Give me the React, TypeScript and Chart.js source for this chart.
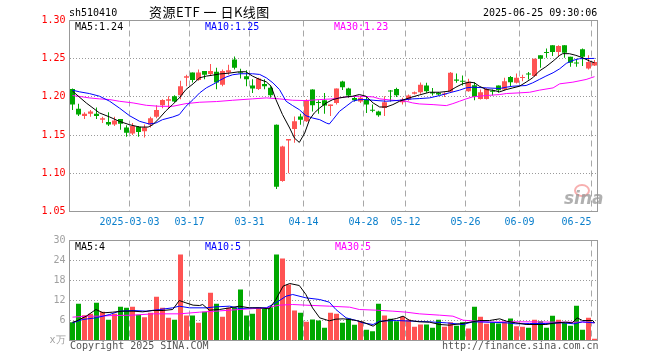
import React, { useEffect, useRef } from 'react';
import { Chart, registerables } from 'chart.js';

Chart.register(...registerables);

// ---------- data ----------
const xTickIdx = [10, 20, 30, 39, 49, 56, 66, 75, 87];
const xTickLabels = ['2025-03-03', '03-17', '03-31', '04-14', '04-28', '05-12', '05-26', '06-09', '06-25'];

const openP = [1.2105,1.1846,1.175,1.178,1.178,1.170,1.167,1.164,1.171,1.160,
1.152,1.161,1.155,1.164,1.174,1.189,1.195,1.201,1.202,1.225,
1.232,1.222,1.234,1.230,1.233,1.216,1.232,1.249,1.232,1.227,
1.215,1.2105,1.217,1.212,1.1636,1.090,1.143,1.158,1.1745,1.168,
1.2096,1.193,1.1956,1.188,1.192,1.220,1.211,1.1987,1.194,1.1965,
1.183,1.181,1.1855,1.208,1.2105,1.193,1.1965,1.204,1.206,1.2149,
1.2061,1.2053,1.2031,1.2066,1.2228,1.2206,1.2075,1.2153,1.1974,1.1974,
1.2075,1.2149,1.2096,1.2259,1.2184,1.2246,1.2296,1.2272,1.2544,1.2582,
1.2675,1.2588,1.2675,1.2526,1.2441,1.2623,1.2373,1.2412];

const highP = [1.2110,1.191,1.180,1.183,1.186,1.174,1.180,1.174,1.171,1.163,
1.166,1.162,1.164,1.174,1.189,1.197,1.201,1.202,1.221,1.229,
1.232,1.236,1.234,1.243,1.238,1.236,1.242,1.253,1.237,1.235,
1.223,1.225,1.223,1.214,1.164,1.136,1.145,1.1745,1.178,1.197,
1.210,1.1956,1.205,1.190,1.211,1.221,1.212,1.201,1.201,1.200,
1.190,1.182,1.201,1.209,1.212,1.199,1.203,1.207,1.219,1.2184,
1.2118,1.2061,1.2061,1.2325,1.2307,1.2281,1.2237,1.2193,1.2096,1.2118,
1.2096,1.2149,1.225,1.2272,1.2307,1.229,1.2325,1.25,1.2544,1.2632,
1.2675,1.2675,1.2675,1.2526,1.25,1.2632,1.2544,1.2482];

const lowP = [1.183,1.175,1.171,1.174,1.171,1.166,1.162,1.162,1.157,1.148,
1.150,1.148,1.147,1.160,1.172,1.185,1.184,1.193,1.197,1.214,
1.219,1.221,1.223,1.228,1.210,1.214,1.229,1.236,1.224,1.214,
1.205,1.209,1.210,1.199,1.0794,1.089,1.100,1.140,1.1636,1.167,
1.181,1.178,1.178,1.175,1.190,1.209,1.199,1.194,1.192,1.179,
1.180,1.174,1.175,1.194,1.200,1.190,1.195,1.203,1.204,1.2053,
1.2018,1.2018,1.200,1.2066,1.2184,1.2149,1.2066,1.1956,1.1965,1.1965,
1.2018,1.2053,1.2088,1.214,1.2175,1.2206,1.2228,1.2263,1.2382,1.2513,
1.2535,1.2535,1.2513,1.2395,1.2395,1.2404,1.236,1.2404];

const closeP = [1.190,1.177,1.178,1.181,1.175,1.172,1.164,1.169,1.165,1.153,
1.162,1.154,1.160,1.172,1.183,1.196,1.197,1.194,1.214,1.227,
1.222,1.232,1.229,1.234,1.219,1.234,1.235,1.238,1.231,1.223,
1.211,1.224,1.214,1.202,1.0825,1.135,1.145,1.168,1.170,1.1956,
1.189,1.192,1.1886,1.190,1.211,1.2127,1.2018,1.1956,1.199,1.190,
1.182,1.176,1.193,1.207,1.202,1.1965,1.2018,1.206,1.216,1.2075,
1.2044,1.2031,1.2044,1.2316,1.221,1.2197,1.2197,1.200,1.2061,1.2105,
1.2066,1.2088,1.2206,1.2193,1.225,1.225,1.2292,1.25,1.25,1.2575,
1.2588,1.2667,1.2579,1.2447,1.2437,1.2526,1.2456,1.2456];

const volume = [5.5,11.0,7.6,8.0,11.3,8.6,6.2,8.0,10.1,9.8,
10.1,7.7,7.0,8.3,13.1,9.8,6.8,6.2,25.8,7.5,
7.5,5.3,8.6,14.3,11.0,7.1,9.8,9.8,15.3,7.5,
8.0,9.8,9.5,10.0,25.8,24.6,16.8,9.0,8.3,5.6,
6.3,6.0,3.8,8.3,8.0,5.3,6.6,4.7,5.8,3.2,
2.8,11.0,7.5,6.5,5.8,7.1,6.3,4.1,4.8,4.8,
3.8,6.2,4.1,5.5,4.4,5.5,3.6,10.1,7.1,5.0,
5.4,5.1,5.6,6.6,4.3,4.1,3.8,6.2,5.8,3.8,
7.4,6.2,5.3,4.4,10.4,3.2,6.8,0.5];

// moving-average lines, read as [candle index, value] points
const ma5Price = [[0,1.2075],[2.3,1.192],[4.5,1.179],[6.2,1.1737],[7.8,1.168],[9.5,1.1636],[11.2,1.1605],[12.6,1.1605],[13.4,1.1636],[14.5,1.1724],[15.6,1.182],[16.7,1.190],[17.8,1.1987],[18.9,1.2096],[20.1,1.2171],[21.2,1.225],[22.3,1.2272],[23.4,1.2285],[24.5,1.230],[26,1.231],[27.8,1.2329],[28.9,1.2329],[30,1.2272],[31.2,1.2228],[32.3,1.2197],[33.1,1.214],[33.9,1.1965],[35,1.1768],[36.2,1.1592],[37,1.146],[37.8,1.1404],[38.7,1.1526],[39.5,1.1702],[40.3,1.179],[41.2,1.1855],[42.3,1.1921],[43.4,1.1965],[44.5,1.1987],[45.6,1.200],[46.7,1.2009],[47.8,1.2031],[48.9,1.2009],[50.1,1.1921],[51.2,1.1868],[52.3,1.1868],[53.4,1.1899],[54.5,1.1943],[55.6,1.1974],[56.7,1.200],[57.8,1.2025],[59.5,1.2061],[61.2,1.2061],[62.8,1.2075],[63.9,1.2127],[65,1.2171],[66.2,1.2193],[67,1.2184],[67.8,1.214],[69,1.2096],[70,1.2088],[71.2,1.2066],[72.3,1.2096],[73.4,1.2118],[74.5,1.214],[75.6,1.2193],[76.7,1.225],[77.8,1.2338],[78.9,1.2395],[80.1,1.2469],[81.2,1.2544],[81.7,1.2566],[82.8,1.2566],[83.9,1.2544],[85,1.2513],[86.2,1.2469],[87,1.2447]];
const ma10Price = [[0,1.2088],[1.2,1.2066],[2.8,1.2044],[4.5,1.2009],[6.2,1.1943],[7.8,1.1855],[9.5,1.1754],[11.2,1.168],[12.8,1.1645],[13.9,1.1658],[15,1.1702],[16.7,1.1737],[17.8,1.1768],[18.9,1.1877],[20.1,1.1965],[21.2,1.2053],[22.3,1.2118],[23.9,1.2184],[24.5,1.2215],[25.6,1.226],[26.7,1.229],[28,1.2303],[30,1.2303],[31.2,1.2294],[32.3,1.225],[33.4,1.2184],[34.5,1.2096],[35.6,1.1943],[36.7,1.1886],[37.8,1.1833],[38.9,1.1754],[40,1.1724],[41.2,1.1702],[42.3,1.1658],[42.8,1.1645],[43.4,1.1702],[44.5,1.1811],[45.6,1.1877],[46.7,1.1943],[47.8,1.1965],[48.9,1.1965],[50.1,1.1956],[52.3,1.1943],[54.5,1.1956],[56.7,1.1974],[57.8,1.1978],[59.5,1.1987],[61.2,1.2018],[62.8,1.2053],[64.5,1.2088],[65.6,1.2118],[66.7,1.2127],[69,1.2118],[71.2,1.211],[72.3,1.2127],[73.4,1.214],[75.6,1.2149],[76.7,1.2184],[77.8,1.2228],[78.9,1.2272],[80.1,1.2316],[81.2,1.2368],[82.3,1.2439],[83.4,1.2478],[84.5,1.250],[87,1.2504]];
const ma30Price = [[0,1.2018],[1.7,1.200],[2.8,1.1987],[4.5,1.1974],[6.2,1.1965],[7.8,1.1943],[10.1,1.1921],[12.3,1.189],[14.5,1.1877],[16.7,1.1877],[18.9,1.1912],[21.2,1.193],[24,1.1939],[26.7,1.1956],[30,1.1974],[32.3,1.1987],[34.5,1.1974],[36.7,1.1956],[38.9,1.1952],[41.2,1.1965],[43.4,1.1974],[45.6,1.200],[47.8,1.2009],[50.1,1.200],[51.2,1.1974],[53.4,1.1956],[55.6,1.1943],[56.7,1.1921],[57.8,1.1908],[60.1,1.1899],[62.3,1.1886],[63.4,1.1912],[64.5,1.1943],[65.6,1.1974],[66.7,1.200],[69,1.2018],[71.2,1.2031],[72.3,1.2044],[74.5,1.2053],[76.2,1.2061],[77.8,1.2088],[80.1,1.2118],[81.2,1.2171],[83.4,1.2193],[85.6,1.2228],[87,1.2265]];

const ma5Vol = [[0,5.5],[0.6,5.8],[2.3,7.3],[3.9,9.3],[5.1,8.3],[6.7,8.5],[8.4,8.8],[10.1,8.8],[11.7,8.6],[13.4,9.0],[15.1,9.0],[16.7,9.3],[17.8,12.0],[18.9,11.3],[20.1,10.6],[21.2,10.5],[21.7,10.8],[22.8,9.1],[24.5,9.3],[26.2,9.8],[27.8,10.3],[29.5,9.8],[31.2,9.8],[32.8,9.5],[33.9,12.3],[35.1,16.3],[36.2,17.1],[37.8,16.5],[38.9,13.8],[40,9.8],[41.2,6.8],[42.8,5.9],[43.9,6.4],[45.1,6.5],[46.2,6.3],[47.3,6.0],[48.4,5.5],[50.1,4.3],[51.2,5.6],[52.3,6.0],[54,6.6],[55.1,7.3],[56.2,6.0],[57.8,5.6],[59.5,5.5],[61.2,4.8],[62.8,4.6],[64.5,5.0],[66.7,5.6],[67.8,6.0],[69.5,6.0],[71.2,6.5],[72.3,5.8],[73.9,5.3],[75.6,4.8],[78.9,4.8],[80.6,5.3],[82.2,5.5],[83.3,5.3],[84.1,6.8],[85,6.0],[86.7,6.0],[87,5.3]];
const ma10Vol = [[0,5.3],[1.7,6.3],[3.9,6.8],[6.2,7.8],[7.8,8.8],[10.1,9.0],[12.3,8.8],[14.5,9.3],[16.7,9.8],[17.8,10.3],[19.5,9.8],[22.3,9.8],[23.9,10.1],[26.2,10.3],[27.8,9.6],[30,9.8],[32.3,9.8],[33.9,11.3],[35.6,13.3],[36.7,13.8],[38.9,12.8],[41.2,12.3],[42.8,11.5],[43.9,9.3],[45.6,6.8],[47.3,6.0],[48.4,5.3],[50.1,4.8],[51.2,5.8],[54,6.0],[56.7,5.8],[59.5,5.6],[62.3,5.3],[65.1,4.8],[66.7,5.6],[69.5,5.5],[72.3,5.3],[73.9,5.0],[76.2,5.1],[78.9,5.1],[81.7,5.3],[83.6,5.0],[85,5.6],[87,5.3]];
const ma30Vol = [[0,7.0],[2.3,7.3],[4.5,7.3],[6.7,7.5],[10.1,7.6],[13.4,8.0],[17.8,8.0],[21.2,8.5],[23.9,8.8],[27.8,9.3],[32.3,9.8],[34.5,10.6],[36.7,10.8],[38.9,10.6],[42.8,10.3],[46.2,10.0],[47.8,9.3],[50.6,9.1],[53.4,8.8],[55.6,8.5],[57.8,8.0],[61.2,7.6],[63.4,7.3],[65.1,6.1],[67.3,5.8],[69.5,5.5],[72.3,5.6],[76.2,5.6],[80.6,5.5],[85,5.5],[87,5.3]];

// ---------- styling ----------
const RED = '#ff5353';
const GREEN = '#00a800';
const MONO = '"DejaVu Sans Mono", monospace';
const HGRID = '#9a9a9a';
const VGRID = '#a8a8a8';
const FRAME = '#999999';

const candleColor = (i: number) => (closeP[i] >= openP[i] ? RED : GREEN);

const framePlugin = {
  id: 'frame',
  afterDraw(chart: any) {
    const { ctx, chartArea: a } = chart;
    ctx.save();
    ctx.strokeStyle = FRAME;
    ctx.lineWidth = 1;
    ctx.strokeRect(a.left, a.top, a.right - a.left, a.bottom - a.top);
    ctx.restore();
  },
};

const lineDs = (pts: number[][], color: string) => ({
  type: 'line' as const,
  data: pts.map(([x, y]) => ({ x: x + 0.5, y })),
  borderColor: color,
  borderWidth: 1,
  pointRadius: 0,
  tension: 0,
  order: 1,
});

function xAxis(showLabels: boolean, height: number) {
  return {
    type: 'linear' as const,
    min: 0,
    max: 88,
    offset: false,
    afterBuildTicks: (s: any) => {
      s.ticks = xTickIdx.map((v) => ({ value: v }));
    },
    afterFit: (s: any) => {
      s.height = height;
      s.paddingLeft = 0;
      s.paddingRight = 0;
    },
    ticks: {
      display: showLabels,
      autoSkip: false,
      maxRotation: 0,
      padding: 5,
      color: '#0a7fcc',
      font: { family: MONO, size: 10 },
      callback: (v: any) => {
        const k = xTickIdx.indexOf(Number(v));
        if (k < 0) return '';
        // the last label sits left of its grid line (kept inside the frame)
        return k === xTickIdx.length - 1 ? xTickLabels[k] + '     ' : xTickLabels[k];
      },
    },
    grid: { color: VGRID, lineWidth: 1, drawTicks: false, offset: false },
    border: { display: false, dash: [6, 4] },
  };
}

function yAxisCommon() {
  return {
    afterFit: (s: any) => {
      s.width = 69.5;
      s.paddingTop = 0;
      s.paddingBottom = 0;
    },
    grid: { color: HGRID, lineWidth: 1, drawTicks: false },
    border: { display: false, dash: [1, 2] },
  };
}

function priceConfig(): any {
  return {
    type: 'bar',
    data: {
      datasets: [
        {
          type: 'bar',
          data: lowP.map((l, i) => ({ x: i + 0.5, y: [l, highP[i]] })),
          backgroundColor: (c: any) => candleColor(c.dataIndex),
          barThickness: 1,
          grouped: false,
          minBarLength: 1,
          inflateAmount: 0,
          order: 3,
        },
        {
          type: 'bar',
          data: openP.map((o, i) => ({ x: i + 0.5, y: [o, closeP[i]] })),
          backgroundColor: (c: any) => candleColor(c.dataIndex),
          barThickness: 5,
          grouped: false,
          minBarLength: 1,
          inflateAmount: 0,
          order: 2,
        },
        lineDs(ma5Price, '#000000'),
        lineDs(ma10Price, '#0000ff'),
        lineDs(ma30Price, '#ff00ff'),
      ],
    },
    options: {
      responsive: false,
      animation: false,
      devicePixelRatio: 1,
      events: [],
      layout: { padding: { left: 0, right: 62.5, top: 20.5, bottom: 128.5 } },
      plugins: { legend: { display: false }, tooltip: { enabled: false } },
      scales: {
        x: xAxis(true, 20),
        y: {
          type: 'linear',
          min: 1.05,
          max: 1.3,
          ...yAxisCommon(),
          ticks: {
            stepSize: 0.05,
            padding: 4,
            color: '#ff0000',
            font: { family: MONO, size: 10 },
            callback: (v: any) => Number(v).toFixed(2),
          },
        },
      },
    },
    plugins: [framePlugin],
  };
}

function volConfig(): any {
  return {
    type: 'bar',
    data: {
      datasets: [
        {
          type: 'bar',
          data: volume.map((v, i) => ({ x: i + 0.5, y: v })),
          backgroundColor: (c: any) => candleColor(c.dataIndex),
          barThickness: 5,
          grouped: false,
          inflateAmount: 0,
          order: 2,
        },
        lineDs(ma5Vol, '#000000'),
        lineDs(ma10Vol, '#0000ff'),
        lineDs(ma30Vol, '#ff00ff'),
      ],
    },
    options: {
      responsive: false,
      animation: false,
      devicePixelRatio: 1,
      events: [],
      layout: { padding: { left: 0, right: 62.5, top: 240.5, bottom: 19.5 } },
      plugins: { legend: { display: false }, tooltip: { enabled: false } },
      scales: {
        x: xAxis(false, 0),
        y: {
          type: 'linear',
          min: 0,
          max: 30,
          ...yAxisCommon(),
          ticks: {
            stepSize: 6,
            padding: 4,
            color: '#a0a0a0',
            font: { family: MONO, size: 10 },
            callback: (v: any) => (Number(v) === 0 ? 'x万' : String(v)),
          },
        },
      },
    },
    plugins: [framePlugin],
  };
}

const txt = (left: number, top: number, color: string, extra: any = {}): React.CSSProperties => ({
  position: 'absolute',
  left,
  top,
  color,
  fontFamily: MONO,
  fontSize: 10,
  lineHeight: '12px',
  whiteSpace: 'nowrap',
  ...extra,
});

export default function App() {
  const priceRef = useRef<HTMLCanvasElement>(null);
  const volRef = useRef<HTMLCanvasElement>(null);

  useEffect(() => {
    const c1 = new Chart(priceRef.current as HTMLCanvasElement, priceConfig());
    const c2 = new Chart(volRef.current as HTMLCanvasElement, volConfig());
    return () => {
      c1.destroy();
      c2.destroy();
    };
  }, []);

  return (
    <div style={{ position: 'absolute', left: 0, top: 0, width: 660, height: 360, background: '#fff', overflow: 'hidden' }}>
      <canvas ref={priceRef} width={660} height={360} style={{ position: 'absolute', left: 0, top: 0 }} />
      <canvas ref={volRef} width={660} height={360} style={{ position: 'absolute', left: 0, top: 0 }} />

      <div style={txt(69, 7, '#000')}>sh510410</div>
      <div style={txt(149, 4, '#000', { fontFamily: '"Noto Sans CJK SC", sans-serif', fontSize: 13, lineHeight: '16px', letterSpacing: '0.5px' })}>资源ETF 一 日K线图</div>
      <div style={txt(483, 7, '#000')}>2025-06-25 09:30:06</div>

      <div style={txt(75, 20.5, '#000')}>MA5:1.24</div>
      <div style={txt(205, 20.5, '#0000ff')}>MA10:1.25</div>
      <div style={txt(334, 20.5, '#ff00ff')}>MA30:1.23</div>

      <div style={txt(75, 240.5, '#000')}>MA5:4</div>
      <div style={txt(205, 240.5, '#0000ff')}>MA10:5</div>
      <div style={txt(335, 240.5, '#ff00ff')}>MA30:5</div>

      <div style={txt(70, 340, '#555')}>Copyright 2025 SINA.COM</div>
      <div style={txt(442, 340, '#555')}>http://finance.sina.com.cn</div>

      <div style={{ position: 'absolute', left: 574, top: 184, width: 12, height: 9, borderRadius: '50%', border: '2px solid rgba(240,110,110,0.55)' }} />
      <div style={txt(564, 189, 'rgba(150,150,150,0.75)', { fontFamily: '"DejaVu Sans", sans-serif', fontSize: 17, lineHeight: '18px', fontWeight: 'bold', fontStyle: 'italic' })}>sina</div>
    </div>
  );
}
